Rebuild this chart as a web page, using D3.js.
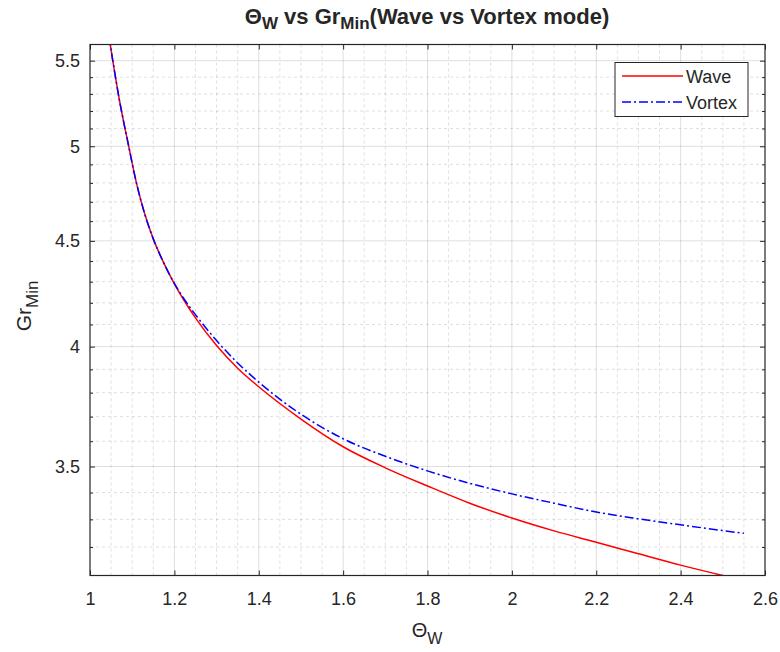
<!DOCTYPE html>
<html><head><meta charset="utf-8">
<script src="https://cdn.jsdelivr.net/npm/d3@7"></script>
<style>
body{margin:0;background:#fff;}
text{font-family:"Liberation Sans",Arial,Helvetica,sans-serif;fill:#262626;}
</style></head>
<body><svg id="chart" width="780" height="652"></svg>
<script>
const waveTheta = [1.045,1.054,1.07,1.09,1.11,1.13,1.15,1.175,1.2,1.225,1.25,1.3,1.35,1.4,1.5,1.6,1.7,1.8,1.9,2.0,2.1,2.2,2.3,2.4,2.5];
const waveGr    = [5.65,5.50,5.26,5.02,4.80,4.635,4.51,4.39,4.29,4.205,4.13,4.005,3.905,3.825,3.69,3.578,3.495,3.425,3.36,3.305,3.258,3.217,3.176,3.136,3.10];
const vortexTheta = [1.045,1.054,1.07,1.09,1.11,1.13,1.15,1.175,1.2,1.225,1.25,1.3,1.35,1.4,1.5,1.6,1.7,1.8,1.9,2.0,2.1,2.2,2.3,2.4,2.5,2.55];
const vortexGr    = [5.65,5.50,5.26,5.02,4.80,4.635,4.51,4.39,4.292,4.212,4.145,4.027,3.928,3.845,3.71,3.61,3.54,3.483,3.435,3.395,3.36,3.327,3.302,3.28,3.259,3.249];
const xTicks = [1,1.2,1.4,1.6,1.8,2,2.2,2.4,2.6];
const yTicks = [3.5,4,4.5,5,5.5];
const xMinor = [1.05,1.1,1.15,1.25,1.3,1.35,1.45,1.5,1.55,1.65,1.7,1.75,1.85,1.9,1.95,2.05,2.1,2.15,2.25,2.3,2.35,2.45,2.5,2.55];
const yMinor = [3.2,3.3,3.4,3.6,3.7,3.8,3.9,4.1,4.2,4.3,4.4,4.6,4.7,4.8,4.9,5.1,5.2,5.3,5.4];
const seriesNames = ["Wave","Vortex"];

const L=90, R=765, T=44.5, B=575.5;
const svg = d3.select("#chart");
const x = d3.scaleLinear().domain([1,2.6]).range([L,R]);
const y = d3.scaleLog().domain([3.1,5.6]).range([B,T]);
const ax = "#262626";

// minor grid
const g = svg.append("g");
g.selectAll(".mx").data(xMinor).enter().append("line")
 .attr("x1",d=>x(d)).attr("x2",d=>x(d)).attr("y1",T).attr("y2",B)
 .attr("stroke","#262626").attr("stroke-opacity",0.15).attr("stroke-dasharray","3,3").attr("stroke-width",1);
g.selectAll(".my").data(yMinor).enter().append("line")
 .attr("y1",d=>y(d)).attr("y2",d=>y(d)).attr("x1",L).attr("x2",R)
 .attr("stroke","#262626").attr("stroke-opacity",0.15).attr("stroke-dasharray","3,3").attr("stroke-width",1);
// major grid
g.selectAll(".gx").data(xTicks.slice(1,-1)).enter().append("line")
 .attr("x1",d=>x(d)).attr("x2",d=>x(d)).attr("y1",T).attr("y2",B)
 .attr("stroke","#262626").attr("stroke-opacity",0.15).attr("stroke-width",1);
g.selectAll(".gy").data(yTicks).enter().append("line")
 .attr("y1",d=>y(d)).attr("y2",d=>y(d)).attr("x1",L).attr("x2",R)
 .attr("stroke","#262626").attr("stroke-opacity",0.15).attr("stroke-width",1);

// axes with inward ticks
const fmt = d=>String(d);
const xAxisB = d3.axisBottom(x).tickValues(xTicks).tickSize(-5).tickPadding(17).tickFormat(fmt);
const xAxisT = d3.axisTop(x).tickValues(xTicks).tickSize(-5).tickFormat("");
const yAxisL = d3.axisLeft(y).tickValues(yTicks).tickSize(-5).tickPadding(10).tickFormat(fmt);
const yAxisR = d3.axisRight(y).tickValues(yTicks).tickSize(-5).tickFormat("");
const yMinL = d3.axisLeft(y).tickValues(yMinor).tickSize(-3).tickFormat("");
const yMinR = d3.axisRight(y).tickValues(yMinor).tickSize(-3).tickFormat("");
function style(sel){
  sel.select(".domain").remove();
  sel.selectAll("line").attr("stroke",ax);
  sel.selectAll("text").attr("font-size",18).attr("fill",ax).attr("font-family","'Liberation Sans',Arial,sans-serif");
}
svg.append("g").attr("transform",`translate(0,${B})`).call(xAxisB).call(style);
svg.append("g").attr("transform",`translate(0,${T})`).call(xAxisT).call(style);
svg.append("g").attr("transform",`translate(${L},0)`).call(yAxisL).call(style);
svg.append("g").attr("transform",`translate(${R},0)`).call(yAxisR).call(style);
svg.append("g").attr("transform",`translate(${L},0)`).call(yMinL).call(style);
svg.append("g").attr("transform",`translate(${R},0)`).call(yMinR).call(style);

// clip
svg.append("clipPath").attr("id","clip").append("rect").attr("x",L).attr("y",T).attr("width",R-L).attr("height",B-T);

const line = d3.line().x(d=>x(d[0])).y(d=>y(d[1])).curve(d3.curveMonotoneX);
const wave = waveTheta.map((t,i)=>[t,waveGr[i]]);
const vortex = vortexTheta.map((t,i)=>[t,vortexGr[i]]);
const pg = svg.append("g").attr("clip-path","url(#clip)");
pg.append("path").datum(wave).attr("d",line).attr("fill","none").attr("stroke","#ff0000").attr("stroke-width",1.5);
pg.append("path").datum(vortex).attr("d",line).attr("fill","none").attr("stroke","#0000ff").attr("stroke-width",1.5).attr("stroke-dasharray","9,3,2,3");

// frame
svg.append("rect").attr("x",L).attr("y",T).attr("width",R-L).attr("height",B-T).attr("fill","none").attr("stroke",ax).attr("stroke-width",1.2);

// legend
const lg = svg.append("g");
lg.append("rect").attr("x",615).attr("y",62.5).attr("width",133).attr("height",54).attr("fill","#fff").attr("stroke",ax).attr("stroke-width",1);
const lcol=["#ff0000","#0000ff"], ldash=[null,"9,3,2,3"];
seriesNames.forEach((n,i)=>{
  const yy = 76 + i*26;
  lg.append("line").attr("x1",622).attr("x2",683).attr("y1",yy).attr("y2",yy).attr("stroke",lcol[i]).attr("stroke-width",1.5).attr("stroke-dasharray",ldash[i]);
  lg.append("text").attr("x",686).attr("y",yy+6.5).attr("font-size",18).text(n);
});

// title
const tt = svg.append("text").attr("x",427).attr("y",24).attr("text-anchor","middle").attr("font-size",22).attr("font-weight","bold");
tt.append("tspan").text("Θ");
tt.append("tspan").attr("font-size",17).attr("dy",5).text("W");
tt.append("tspan").attr("dy",-5).text(" vs Gr");
tt.append("tspan").attr("font-size",17).attr("dy",5).text("Min");
tt.append("tspan").attr("dy",-5).text("(Wave vs Vortex mode)");

// x label
const xl = svg.append("text").attr("x",427).attr("y",637).attr("text-anchor","middle").attr("font-size",20);
xl.append("tspan").text("Θ");
xl.append("tspan").attr("font-size",16).attr("dy",7).text("W");

// y label
const yl = svg.append("text").attr("transform","translate(31,306) rotate(-90)").attr("text-anchor","middle").attr("font-size",21);
yl.append("tspan").text("Gr");
yl.append("tspan").attr("font-size",17).attr("dy",7).text("Min");
</script></body></html>
